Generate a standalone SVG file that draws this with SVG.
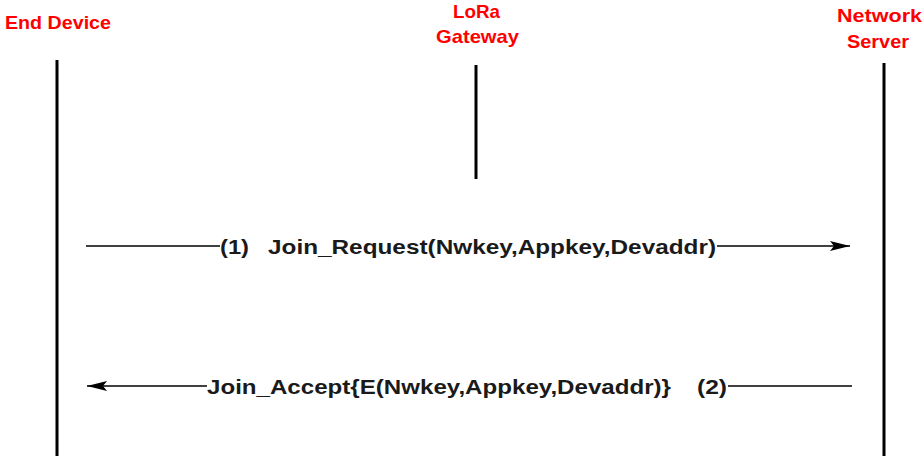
<svg xmlns="http://www.w3.org/2000/svg" width="922" height="456" viewBox="0 0 922 456">
  <defs>
    <marker id="arrow" viewBox="0 0 20 10" refX="20" refY="5" markerWidth="20" markerHeight="10" markerUnits="userSpaceOnUse" orient="auto">
      <path d="M0,0 L20,5 L0,10 L4,5 Z" fill="#000"/>
    </marker>
    <style>
      .title { font-family: "Liberation Sans", Arial, sans-serif; font-weight: bold; font-size: 19px; fill: #ff0000; text-anchor: start; }
      .msg { font-family: "Liberation Sans", Arial, sans-serif; font-weight: bold; font-size: 21px; fill: #1a1a1a; }
      .life { stroke: #000; stroke-width: 3; fill: none; }
      .wire { stroke: #000; stroke-width: 1.6; fill: none; }
    </style>
  </defs>
  <rect width="922" height="456" fill="#fff"/>

  <!-- participants -->
  <g id="end-device">
    <text class="title" x="5" y="29" textLength="106" lengthAdjust="spacingAndGlyphs">End Device</text>
    <line class="life" x1="57" y1="60" x2="57" y2="456"/>
  </g>
  <g id="lora-gateway">
    <text class="title" x="453" y="18" textLength="47" lengthAdjust="spacingAndGlyphs">LoRa</text>
    <text class="title" x="436" y="43" textLength="83" lengthAdjust="spacingAndGlyphs">Gateway</text>
    <line class="life" x1="476" y1="65" x2="476" y2="179"/>
  </g>
  <g id="network-server">
    <text class="title" x="837" y="22" textLength="85" lengthAdjust="spacingAndGlyphs">Network</text>
    <text class="title" x="847" y="48" textLength="62" lengthAdjust="spacingAndGlyphs">Server</text>
    <line class="life" x1="884" y1="63" x2="884" y2="456"/>
  </g>

  <!-- messages -->
  <g id="connectors">
    <line class="wire" x1="86" y1="246" x2="220" y2="246"/>
    <line class="wire" x1="717" y1="246" x2="850" y2="246" marker-end="url(#arrow)"/>
    <line class="wire" x1="852" y1="386" x2="728" y2="386"/>
    <line class="wire" x1="207" y1="386" x2="87" y2="386" marker-end="url(#arrow)"/>
  </g>
  <g id="labels">
    <text class="msg" x="220" y="254" textLength="29" lengthAdjust="spacingAndGlyphs">(1)</text>
    <text class="msg" x="268" y="254" textLength="448" lengthAdjust="spacingAndGlyphs">Join_Request(Nwkey,Appkey,Devaddr)</text>
    <text class="msg" x="207" y="394" textLength="464" lengthAdjust="spacingAndGlyphs">Join_Accept{E(Nwkey,Appkey,Devaddr)}</text>
    <text class="msg" x="697" y="394" textLength="30" lengthAdjust="spacingAndGlyphs">(2)</text>
  </g>
</svg>
